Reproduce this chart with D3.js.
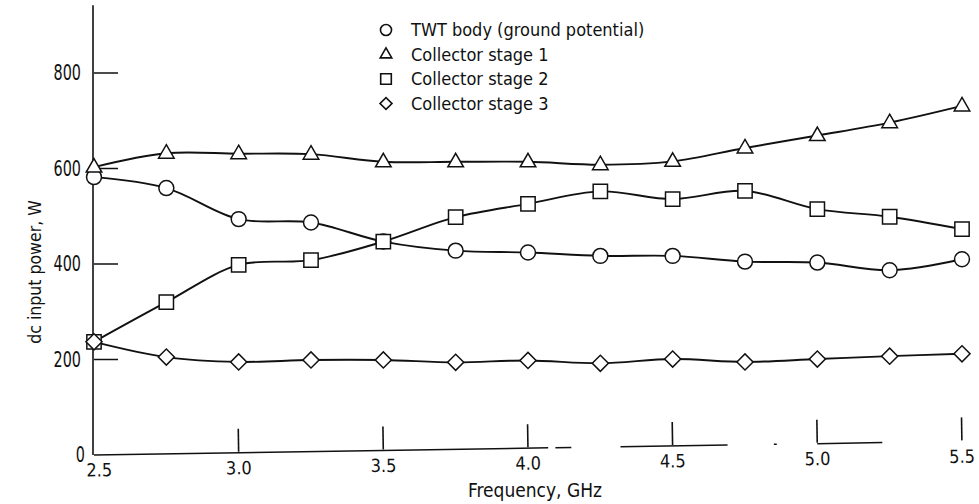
<!DOCTYPE html>
<html><head><meta charset="utf-8">
<script src="https://cdn.jsdelivr.net/npm/d3@7"></script>
<style>
html,body{margin:0;padding:0;background:#fff;}
svg text{font-family:"DejaVu Sans Condensed","DejaVu Sans",sans-serif;fill:#111;}
</style></head>
<body><svg id="c" width="979" height="504"></svg>
<script>
const freq = [2.5,2.75,3.0,3.25,3.5,3.75,4.0,4.25,4.5,4.75,5.0,5.25,5.5];
const twtBody   = [582,559,494,487,447,428,424,417,417,405,403,387,410];
const stage1    = [603,632,631,630,614,614,614,608,615,643,669,696,731];
const stage2    = [237,320,398,408,447,498,526,552,536,553,515,499,473];
const stage3    = [237,205,195,199,199,194,198,192,201,195,201,207,212];
const seriesNames = ["TWT body (ground potential)","Collector stage 1","Collector stage 2","Collector stage 3"];
const markerTypes = ["circle","triangle","square","diamond"];
const xTicks = [2.5,3.0,3.5,4.0,4.5,5.0,5.5];
const xTickLabels = ["2.5","3.0","3.5","4.0","4.5","5.0","5.5"];
const yTicks = [0,200,400,600,800];
const yTickLabels = ["0","200","400","600","800"];
// visible pieces of the (faded) frequency axis line in the scan
const xAxisSegments = [[2.5,4.07],[4.095,4.15],[4.32,4.69],[4.85,4.86],[5.0,5.225]];

const svg = d3.select("#c");
const x = d3.scaleLinear().domain([2.5,5.5]).range([94,962]);
const y = d3.scaleLinear().domain([0,800]).range([455,73]);
const ink = "#111";

// y axis line
svg.append("line").attr("x1",x(2.5)-1).attr("x2",x(2.5)-1).attr("y1",y(942)).attr("y2",y(0))
  .attr("stroke",ink).attr("stroke-width",1.6);

// y ticks (inward) and labels
svg.selectAll(".yt").data(yTicks.filter(v=>v>0)).join("line")
  .attr("x1",x(2.5)).attr("x2",x(2.5)+24).attr("y1",d=>y(d)).attr("y2",d=>y(d))
  .attr("stroke",ink).attr("stroke-width",1.5);
svg.selectAll(".yl").data(yTicks).join("text")
  .attr("transform",d=>`translate(${d===0?85:81},${y(d)}) scale(0.78,1)`)
  .attr("dy","0.36em")
  .attr("text-anchor","end").attr("font-size",20.5)
  .text((d,i)=>yTickLabels[i]);

// x axis (slightly tilted like the scan)
const gx = svg.append("g").attr("transform",`rotate(-0.9,${x(2.5)},${y(0)})`);
gx.selectAll(".xseg").data(xAxisSegments).join("line")
  .attr("x1",d=>x(d[0])).attr("x2",d=>x(d[1])).attr("y1",y(0)).attr("y2",y(0))
  .attr("stroke",ink).attr("stroke-width",1.5);
gx.selectAll(".xt").data(xTicks.filter(v=>v>2.5)).join("line")
  .attr("x1",d=>x(d)).attr("x2",d=>x(d)).attr("y1",y(0)-1).attr("y2",y(0)-24)
  .attr("stroke",ink).attr("stroke-width",1.6);
gx.selectAll(".xl").data(xTicks).join("text")
  .attr("x",(d,i)=>i===0?x(d)+5:x(d)).attr("y",y(0)+15).attr("dy","0.36em")
  .attr("text-anchor","middle").attr("font-size",18)
  .text((d,i)=>xTickLabels[i]);

// axis titles
svg.append("text").attr("x",535).attr("y",490).attr("dy","0.36em")
  .attr("text-anchor","middle").attr("font-size",19).text("Frequency, GHz");
svg.append("text").attr("transform","translate(35,272) rotate(-90)").attr("dy","0.36em")
  .attr("text-anchor","middle").attr("font-size",17.5).text("dc input power, W");

// series
const allSeries = [twtBody, stage1, stage2, stage3];
const line = d3.line().x((d,i)=>x(freq[i])).y(d=>y(d)).curve(d3.curveCatmullRom.alpha(0.5));
svg.selectAll(".ln").data(allSeries).join("path")
  .attr("d",d=>line(d)).attr("fill","none").attr("stroke",ink).attr("stroke-width",1.9);

const symSize = {circle:175, triangle:105, square:205, diamond:130};
const symType = {circle:d3.symbolCircle, triangle:d3.symbolTriangle, square:d3.symbolSquare, diamond:d3.symbolSquare};
function sym(t, scale){ return d3.symbol().type(symType[t]).size(symSize[t]*(scale||1))(); }

allSeries.forEach((s,k)=>{
  const t = markerTypes[k];
  svg.selectAll(".m"+k).data(s).join("path")
    .attr("d",sym(t))
    .attr("transform",(d,i)=>`translate(${x(freq[i])},${y(d)})`+(t==="diamond"?" rotate(45)":"")+(t==="triangle"?" translate(0,0.5)":""))
    .attr("fill","#fff").attr("stroke",ink).attr("stroke-width",1.5);
});

// legend
const lg = svg.append("g");
seriesNames.forEach((n,k)=>{
  const yy = 30 + k*24.5;
  const t = markerTypes[k];
  lg.append("path").attr("d",sym(t,0.55))
    .attr("transform",`translate(386,${yy})`+(t==="diamond"?" rotate(45)":""))
    .attr("fill","#fff").attr("stroke",ink).attr("stroke-width",1.6);
  lg.append("text").attr("x",411).attr("y",yy).attr("dy","0.36em").attr("font-size",18).text(n);
});
</script>
</body></html>
